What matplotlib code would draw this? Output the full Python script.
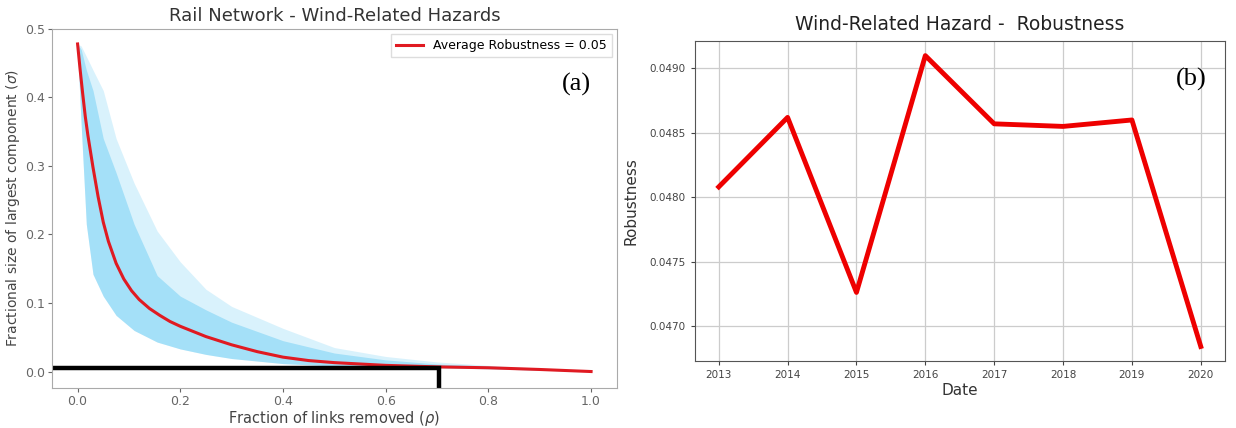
import matplotlib
matplotlib.use('Agg')
import matplotlib.pyplot as plt
import numpy as np

plt.rcParams['font.family'] = ['DejaVu Sans']

# 鉄道網 - 風害によるリンク除去シミュレーション（平均曲線）
rho = [0.0, 0.005, 0.01, 0.015, 0.02, 0.03, 0.04, 0.05, 0.06, 0.075, 0.09, 0.105,
       0.12, 0.14, 0.16, 0.18, 0.20, 0.25, 0.30, 0.35, 0.40, 0.45, 0.50, 0.60,
       0.70, 0.80, 0.90, 1.00]
sigma_mean = [0.478, 0.44, 0.405, 0.372, 0.345, 0.298, 0.255, 0.218, 0.19, 0.158,
              0.135, 0.118, 0.105, 0.092, 0.082, 0.073, 0.066, 0.051, 0.039, 0.029,
              0.021, 0.016, 0.013, 0.009, 0.0068, 0.0055, 0.003, 0.0]

# 試行ごとのばらつき（外側 / 密な部分 / 下限）
rho_band = [0.0, 0.007, 0.017, 0.03, 0.05, 0.075, 0.11, 0.155, 0.20, 0.25, 0.30,
            0.40, 0.50, 0.60, 0.70, 0.80, 0.90, 1.00]
band_outer = [0.478, 0.475, 0.46, 0.44, 0.41, 0.34, 0.275, 0.205, 0.16, 0.12, 0.095,
              0.063, 0.035, 0.022, 0.014, 0.009, 0.005, 0.001]
band_inner = [0.478, 0.47, 0.44, 0.41, 0.34, 0.29, 0.215, 0.14, 0.11, 0.09, 0.072,
              0.045, 0.027, 0.017, 0.011, 0.008, 0.004, 0.001]
band_lower = [0.47, 0.36, 0.215, 0.142, 0.11, 0.082, 0.06, 0.043, 0.033, 0.025, 0.019,
              0.0116, 0.008, 0.0065, 0.0055, 0.004, 0.002, 0.0]

avg_robustness = 0.05
cut_rho = 0.703
cut_sigma = 0.0045

# 年別ロバストネス
years = [2013, 2014, 2015, 2016, 2017, 2018, 2019, 2020]
robustness = [0.04808, 0.04862, 0.04726, 0.04910, 0.04857, 0.04855, 0.04860, 0.04684]

fig = plt.figure(figsize=(12.36, 4.28), dpi=100)
ax1 = fig.add_axes([0.042, 0.0935, 0.457, 0.839])
ax2 = fig.add_axes([0.562, 0.1565, 0.429, 0.7475])

# 左: ばらつきの帯と平均曲線
ax1.fill_between(rho_band, band_lower, band_outer, color='#55c5f2', alpha=0.22, linewidth=0)
ax1.fill_between(rho_band, band_lower, band_inner, color='#55c5f2', alpha=0.4, linewidth=0)
ax1.plot(rho, sigma_mean, color='#e01a22', linewidth=2.2,
         label=f'Average Robustness = {avg_robustness}')
ax1.plot([-0.05, cut_rho, cut_rho], [cut_sigma, cut_sigma, -0.05],
         color='black', linewidth=3.2, solid_joinstyle='miter')
ax1.set_xlim(-0.05, 1.05)
ax1.set_ylim(-0.024, 0.5)
ax1.set_xticks([0.0, 0.2, 0.4, 0.6, 0.8, 1.0])
ax1.set_yticks([0.0, 0.1, 0.2, 0.3, 0.4, 0.5])
ax1.tick_params(labelsize=9, colors='#666666', length=3, pad=2)
for s in ax1.spines.values():
    s.set_color('#aaaaaa')
ax1.set_title('Rail Network - Wind-Related Hazards', fontsize=13, color='#333333', pad=6)
ax1.set_xlabel(r'Fraction of links removed ($\rho$)', fontsize=10.5, color='#444444', labelpad=1)
ax1.set_ylabel(r'Fractional size of largest component ($\sigma$)', fontsize=10,
               color='#444444', labelpad=2)
leg = ax1.legend(loc='upper right', fontsize=9, handlelength=2.2, borderaxespad=0.4,
                 fancybox=False, framealpha=1)
leg.get_frame().set_edgecolor('#dddddd')
ax1.text(0.955, 0.845, '(a)', transform=ax1.transAxes, ha='right', va='center',
         fontsize=19, family='Liberation Serif')

# 右: 年別ロバストネス
ax2.plot(years, robustness, color='#ee0000', linewidth=3.5)
ax2.grid(True, color='#cccccc', linewidth=0.9)
ax2.set_xticks(years)
ax2.set_yticks([0.0470, 0.0475, 0.0480, 0.0485, 0.0490])
ax2.yaxis.set_major_formatter(matplotlib.ticker.FormatStrFormatter('%.4f'))
ax2.tick_params(labelsize=7.5, colors='#444444', length=3)
for s in ax2.spines.values():
    s.set_color('#555555')
ax2.set_title('Wind-Related Hazard -  Robustness', fontsize=13.5, color='#222222', pad=8)
ax2.set_xlabel('Date', fontsize=11, color='#333333', labelpad=2)
ax2.set_ylabel('Robustness', fontsize=11, color='#333333', labelpad=8)
ax2.text(0.965, 0.88, '(b)', transform=ax2.transAxes, ha='right', va='center',
         fontsize=19, family='Liberation Serif')

fig.savefig('out.png', dpi=100)
